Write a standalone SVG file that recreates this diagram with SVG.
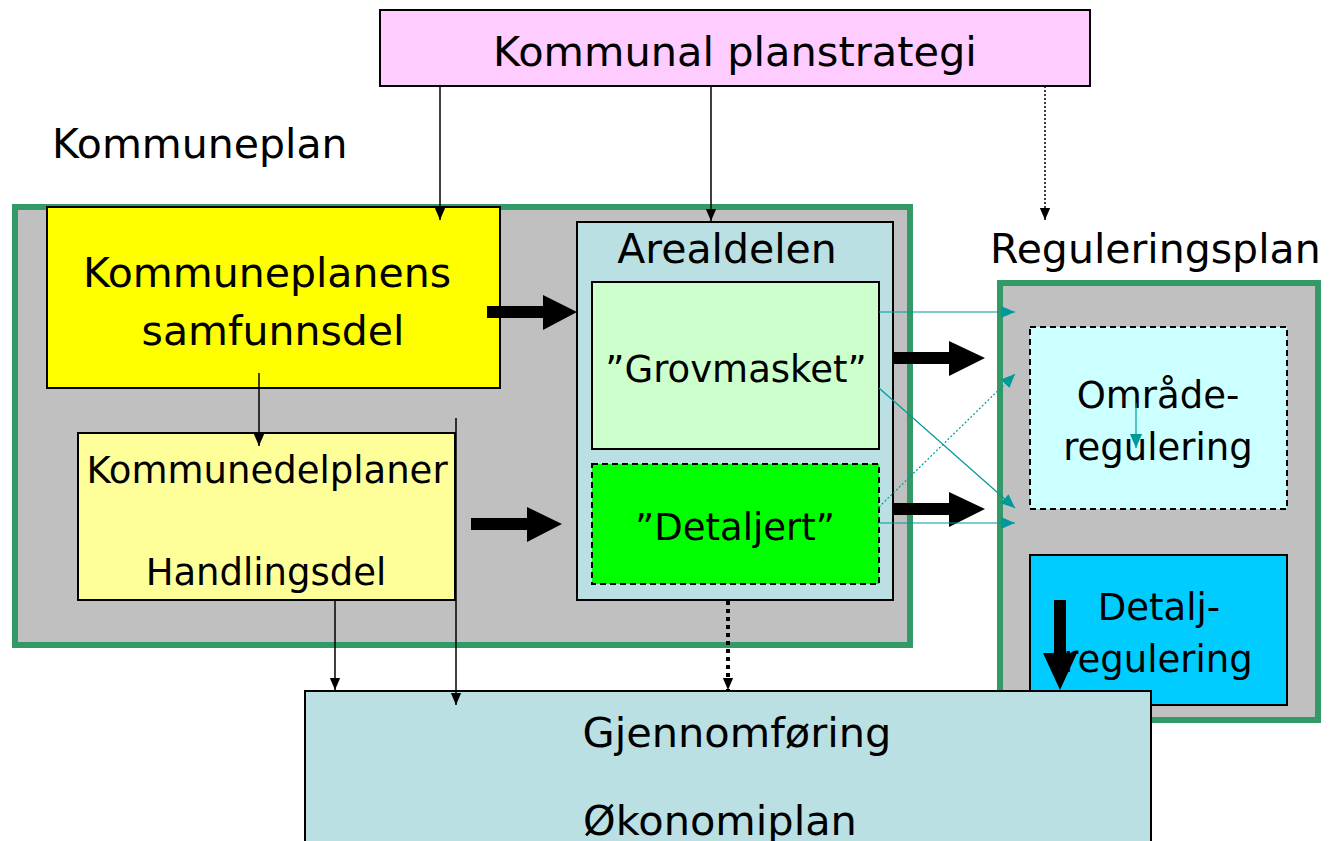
<svg xmlns="http://www.w3.org/2000/svg" width="1330" height="841" viewBox="0 0 1330 841">
<style>
text{font-family:"DejaVu Sans","Liberation Sans",sans-serif;fill:#000}
.t41{font-size:41px}
.t37{font-size:37px}
.c{text-anchor:middle}
.box{stroke:#000;stroke-width:2}
.cont{fill:#C0C0C0;stroke:#339966;stroke-width:6}
.thin{stroke:#000;stroke-width:1.5;fill:none}
.teal{stroke:#009999;stroke-width:1.2;fill:none}
</style>
<defs>
<marker id="ab" markerWidth="12" markerHeight="16" refX="14" refY="6" viewBox="0 0 14 12" orient="auto" markerUnits="userSpaceOnUse">
<path d="M0,0 L14,6 L0,12 z" fill="#000"/>
</marker>
<marker id="at" markerWidth="14" markerHeight="16" refX="15" refY="6.5" viewBox="0 0 15 13" orient="auto" markerUnits="userSpaceOnUse">
<path d="M0,0 L15,6.5 L0,13 z" fill="#009999"/>
</marker>
</defs>

<g id="kommunal-planstrategi">
<rect x="380" y="10" width="710" height="76" fill="#FFCCFF" class="box"/>
<text x="735" y="66" class="t41 c" style="font-size:41.5px">Kommunal planstrategi</text>
</g>

<g id="kommuneplan-label"><text x="52" y="158" class="t41">Kommuneplan</text></g>
<g id="reguleringsplan-label"><text x="990" y="263" class="t41">Reguleringsplan</text></g>

<g id="kommuneplan">
<rect x="15" y="207" width="895" height="438" class="cont"/>
</g>

<g id="samfunnsdel">
<rect x="47" y="207" width="453" height="181" fill="#FFFF00" class="box"/>
<text x="267" y="287" class="t41 c">Kommuneplanens</text>
<text x="273" y="345" class="t41 c">samfunnsdel</text>
</g>

<g id="kommunedelplaner">
<rect x="78" y="433" width="377" height="167" fill="#FFFF99" class="box"/>
<text x="267" y="483" class="t37 c">Kommunedelplaner</text>
<text x="266" y="585" class="t37 c">Handlingsdel</text>
</g>

<g id="arealdelen">
<rect x="577" y="222" width="316" height="378" fill="#BBE0E3" class="box"/>
<text x="727" y="263" class="t41 c">Arealdelen</text>
</g>

<g id="grovmasket">
<rect x="592" y="282" width="287" height="167" fill="#CCFFCC" class="box"/>
<text x="736" y="382" class="t37 c">”Grovmasket”</text>
</g>

<g id="detaljert">
<rect x="592" y="464" width="287" height="120" fill="#00FF00" class="box" stroke-dasharray="6,4"/>
<text x="735" y="540" class="t37 c">”Detaljert”</text>
</g>

<g id="reguleringsplan">
<rect x="1000" y="283" width="318" height="437" class="cont"/>
</g>

<g id="omraderegulering">
<rect x="1030" y="327" width="257" height="182" fill="#CCFFFF" class="box" stroke-dasharray="6,4"/>
<text x="1158" y="408" class="t37 c">Område-</text>
<text x="1158" y="460" class="t37 c">regulering</text>
</g>

<g id="detaljregulering">
<rect x="1030" y="555" width="257" height="150" fill="#00CCFF" class="box"/>
<text x="1159" y="620" class="t37 c">Detalj-</text>
<text x="1158" y="672" class="t37 c">regulering</text>
</g>

<g id="gjennomforing">
<rect x="305" y="691" width="846" height="170" fill="#BBE0E3" class="box"/>
<text x="737" y="747" class="t41 c" style="font-size:41.5px">Gjennomføring</text>
<text x="720" y="835" class="t41 c" style="font-size:41.5px">Økonomiplan</text>
</g>

<g id="connectors">
<line x1="440" y1="86" x2="440" y2="220" class="thin" marker-end="url(#ab)"/>
<line x1="711" y1="86" x2="711" y2="221" class="thin" marker-end="url(#ab)"/>
<line x1="1045" y1="86" x2="1045" y2="220" class="thin" stroke-dasharray="2,2" marker-end="url(#ab)"/>
<line x1="259" y1="373" x2="259" y2="446" class="thin" marker-end="url(#ab)"/>
<line x1="456" y1="418" x2="456" y2="705" class="thin" marker-end="url(#ab)"/>
<line x1="335" y1="600" x2="335" y2="690" class="thin" marker-end="url(#ab)"/>
<line x1="728" y1="601" x2="728" y2="690" stroke="#000" stroke-width="4" stroke-dasharray="4,4" marker-end="url(#ab)"/>

<path d="M487,306 H543 V295 L577,312 L543,330 V318 H487 z" fill="#000"/>
<path d="M471,518 H527 V507 L562,524 L527,542 V530 H471 z" fill="#000"/>
<path d="M894,352 H949 V341 L985,358 L949,376 V364 H894 z" fill="#000"/>
<path d="M894,503 H949 V492 L985,509 L949,527 V515 H894 z" fill="#000"/>
<path d="M1054,600 H1066 V653 H1077 L1060,690 L1043,653 H1054 z" fill="#000"/>

<line x1="879" y1="312" x2="1015" y2="312" class="teal" marker-end="url(#at)"/>
<line x1="879" y1="388" x2="1015" y2="508" class="teal" marker-end="url(#at)"/>
<line x1="879" y1="507" x2="1015" y2="374" class="teal" stroke-width="2" stroke-dasharray="2,2" marker-end="url(#at)"/>
<line x1="879" y1="523" x2="1015" y2="523" class="teal" marker-end="url(#at)"/>
<line x1="1136" y1="403" x2="1136" y2="448" class="teal" stroke-width="1.5" marker-end="url(#at)"/>
</g>
</svg>
